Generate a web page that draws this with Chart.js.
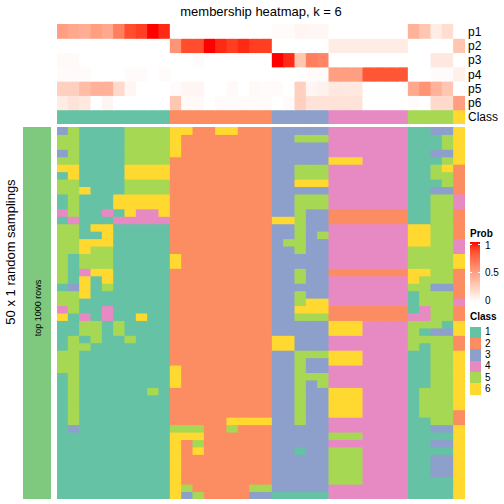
<!DOCTYPE html>
<html><head><meta charset="utf-8">
<script src="https://cdn.jsdelivr.net/npm/chart.js@4.4.1/dist/chart.umd.min.js"></script>
<style>
body{margin:0;width:504px;height:504px;background:#fff;position:relative;overflow:hidden;font-family:"Liberation Sans",Arial,Helvetica,sans-serif;color:#000;}
.t{position:absolute;white-space:nowrap;line-height:1;}
canvas{position:absolute;}
</style></head><body>
<script>
// ---------- DATA ----------
const classNames = ["1","2","3","4","5","6"];
const classColors = {"1":"#66C2A5","2":"#FC8D62","3":"#8DA0CB","4":"#E78AC3","5":"#A6D854","6":"#FFD92F"};
// consensus class of each of the 36 columns (samples)
const columnClass = "1111111111 222222222 33333 4444444 5555 6";
const probRowNames = ["p1","p2","p3","p4","p5","p6"];
const p1 = [.5,.45,.42,.5,.45,.65,.85,.9,1,.95, 0,0,0,0,0,0,0,0,0, .02,.02,.05,.04,.04, 0,0,0,0,0,0,0, .4,.3,.1,.18, 0];
const p2 = [0,0,0,0,0,0,0,0,0,0, .55,.85,.85,1,.95,.9,.95,.9,.9, 0,0,0,0,0, .1,.1,.1,.1,.1,.1,.1, 0,0,0,0, .3];
const p3 = [.03,.03,0,0,0,0,0,0,0,0, 0,0,.02,0,0,0,0,0,0, 1,.95,.3,.65,.62, 0,0,0,0,0,0,0, 0,0,.12,.12, 0];
const p4 = [.02,.02,.02,0,0,0,.02,.02,0,.02, 0,0,0,0,0,0,0,0,0, 0,0,0,.02,.02, .5,.5,.5,.82,.82,.82,.82, 0,0,.02,.02, .08];
const p5 = [.25,.25,.35,.4,.4,.2,.05,0,0,0, .02,.05,.05,0,0,.03,0,.03,.02, .02,0,.25,.05,.07, .12,.12,.12,0,0,0,0, .45,.55,.4,.3, 0];
const p6 = [.1,.15,.12,0,.05,0,0,0,0,0, .3,.03,.03,0,.02,.02,.02,.02,.02, 0,.02,.25,.15,.15, .15,.15,.15,0,0,0,0, .02,0,.2,.2, .5];
// class assigned in each of the 50 random samplings (rows) for the 36 columns
const samplingClasses = [
"3511115555 662266222 33333 4444444 1133 6",
"5511115555 622222222 33555 4444444 1115 6",
"5511115555 622222222 33333 4444444 1115 6",
"3511115555 622222222 33333 4444444 1133 6",
"5511115555 222222222 33333 6664444 1115 6",
"6611116666 222222222 33555 4444444 1156 2",
"1611116666 222222222 33555 4444444 1155 2",
"5511115555 222222222 33666 4444444 1115 2",
"5561115555 222222222 33333 4444444 1133 2",
"1511166666 222222222 33555 4444444 1155 4",
"1511166666 222222222 33555 4444444 1155 4",
"4511416446 222222222 33533 2222222 1155 2",
"1411144444 222222222 66533 2222222 1155 2",
"5516611111 222222222 33533 4444444 6655 2",
"5511611111 222222222 33535 4444444 6655 2",
"5566611111 222222222 35533 4444444 6655 4",
"5565511111 222222222 33533 4444444 5555 4",
"5155511111 622222222 33333 4444444 5555 6",
"5155511111 622222222 33333 4444444 5555 6",
"5146611111 222222222 33533 2222222 6655 2",
"5161611111 222222222 33533 4444444 6555 2",
"1361511111 222222222 33333 4444444 5533 2",
"5561111111 222222222 33533 4444444 1555 2",
"5511111111 222222222 33566 4444444 1555 4",
"4511411111 222222222 33666 2222222 1455 2",
"6141411611 222222222 33555 2222222 4455 2",
"1155151111 222222222 33333 6664444 5551 6",
"1155151111 222222222 33333 6664444 5133 6",
"1515115111 222222222 66333 4444444 5555 2",
"1551111111 222222222 66333 4444444 5155 2",
"5511111111 222222222 33555 6664444 1155 6",
"5511111111 222222222 33533 6664444 1155 6",
"5511111111 622222222 33533 4444444 1155 6",
"1511111111 622222222 33555 4444444 1155 6",
"1511111111 622222222 33535 4444444 1155 6",
"1511111151 222222222 33533 6664444 1555 6",
"1511111111 222222222 33533 6664444 1555 6",
"1511111111 222222222 33533 6664444 1555 6",
"1511111111 222222222 33533 6664444 1555 2",
"1511111111 222226666 33533 4444444 1155 2",
"1311111111 555225222 33333 4444444 1133 6",
"1111111111 666222222 33333 5554444 1111 6",
"1111111111 625222222 33333 4444444 1133 6",
"1111111111 626222222 33133 5554444 1111 6",
"1111111111 622222222 33333 5554444 1133 6",
"1111111111 622222222 33333 5554444 1133 6",
"1111111111 622222222 33333 5554444 1133 6",
"1111111111 622222222 33333 5554444 1111 6",
"1111111111 652222255 33333 4444444 1111 6",
"1111111111 635222233 11111 4444444 1111 6"
];
const probTicks = ["1","0.5","0"];

// ---------- helpers ----------
function lab2hex(L,a,b){
  let y=(L+16)/116, x=a/500+y, z=y-b/200;
  const f=t=>{const t3=t*t*t;return t3>0.008856?t3:(t-16/116)/7.787;};
  const X=0.95047*f(x), Y=f(y), Z=1.08883*f(z);
  let r=X*3.2406+Y*-1.5372+Z*-0.4986, g=X*-0.9689+Y*1.8758+Z*0.0415, bb=X*0.0557+Y*-0.2040+Z*1.0570;
  const gm=c=>{c=c>0.0031308?1.055*Math.pow(c,1/2.4)-0.055:12.92*c;return Math.round(Math.max(0,Math.min(1,c))*255);};
  return "#"+[gm(r),gm(g),gm(bb)].map(v=>v.toString(16).padStart(2,"0")).join("");
}
function probColor(v){ // white -> red in LAB
  return lab2hex(100+(53.24-100)*v, 80.09*v, 67.20*v);
}
const colClass = columnClass.replace(/ /g,"").split("");
const colLabels = colClass.map((c,i)=>"s"+(i+1));
const rows = samplingClasses.map(s=>s.replace(/ /g,"").split(""));

function addCanvas(x,y,w,h){
  const c=document.createElement("canvas");
  c.width=w;c.height=h;c.style.left=x+"px";c.style.top=y+"px";c.style.width=w+"px";c.style.height=h+"px";
  document.body.appendChild(c);return c;
}
function addText(txt,x,y,opts={}){
  const d=document.createElement("div");d.className="t";d.textContent=txt;
  d.style.left=x+"px";d.style.top=y+"px";
  d.style.fontSize=(opts.size||12)+"px";
  if(opts.bold)d.style.fontWeight="bold";
  let tf=opts.anchor==="center"?"translate(-50%,-50%)":"translate(0,-50%)";
  if(opts.rot)tf+=" rotate("+opts.rot+"deg)";
  d.style.transform=tf;
  document.body.appendChild(d);return d;
}
function gridChart(canvas, datasets, nRows){
  return new Chart(canvas,{type:"bar",data:{labels:colLabels,datasets},
    options:{responsive:false,animation:false,devicePixelRatio:1,layout:{padding:0},
      plugins:{legend:{display:false},tooltip:{enabled:false},title:{display:false}},
      scales:{x:{display:false,offset:true,grid:{display:false}},
              y:{display:false,min:0,max:nRows,reverse:true}},
      datasets:{bar:{grouped:false,barPercentage:1,categoryPercentage:1,borderWidth:0,inflateAmount:0.5}}}});
}

// ---------- top annotation ----------
const probRows=[p1,p2,p3,p4,p5,p6];
const topSets = probRows.map((vals,i)=>({label:probRowNames[i],data:vals.map(()=>[i,i+1]),backgroundColor:vals.map(probColor)}));
topSets.push({label:"Class",data:colClass.map(()=>[6,7]),backgroundColor:colClass.map(c=>classColors[c])});
gridChart(addCanvas(57,24,408,100),topSets,7);

// ---------- body ----------
const bodySets = rows.map((r,i)=>({label:"sampling "+(i+1),data:r.map(()=>[i,i+1]),backgroundColor:r.map(c=>classColors[c])}));
gridChart(addCanvas(57,127,408,372),bodySets,rows.length);

// ---------- left annotation bar ----------
const lb=document.createElement("div");
lb.style.cssText="position:absolute;left:23px;top:127px;width:28px;height:372px;background:#7FC97F;";
document.body.appendChild(lb);
addText("top 1000 rows",38,308,{size:9,anchor:"center",rot:-90});
addText("50 x 1 random samplings",10,252,{size:13,anchor:"center",rot:-90});

// ---------- titles & labels ----------
addText("membership heatmap, k = 6",261,11,{size:13,anchor:"center"});
const rowLabelY=[32,46,60,74.5,88.5,103];
probRowNames.forEach((n,i)=>addText(n,468,rowLabelY[i],{size:12}));
addText("Class",468,117,{size:12});

// ---------- legends ----------
addText("Prob",470,234,{size:10,bold:true});
const g=document.createElement("div");
let stops=[];for(let k=0;k<=10;k++){stops.push(probColor(1-k/10)+" "+(k*10)+"%");}
g.style.cssText="position:absolute;left:470px;top:242px;width:10px;height:60px;background:linear-gradient(to bottom,"+stops.join(",")+");";
document.body.appendChild(g);
[244,272].forEach(y=>{[470,478].forEach(x=>{const t=document.createElement("div");t.style.cssText="position:absolute;left:"+x+"px;top:"+y+"px;width:2px;height:1px;background:#fff;";document.body.appendChild(t);});});
[245.5,273,300.5].forEach((y,i)=>addText(probTicks[i],485,y,{size:10}));
addText("Class",470,317,{size:10,bold:true});
const boxH=11.34;
classNames.forEach((c,i)=>{
  const b=document.createElement("div");
  b.style.cssText="position:absolute;left:470px;top:"+(326.5+boxH*i)+"px;width:11px;height:"+boxH+"px;background:"+classColors[c]+";";
  document.body.appendChild(b);
  addText(c,485,326.5+boxH*(i+0.5),{size:10});
});
</script>
</body></html>
